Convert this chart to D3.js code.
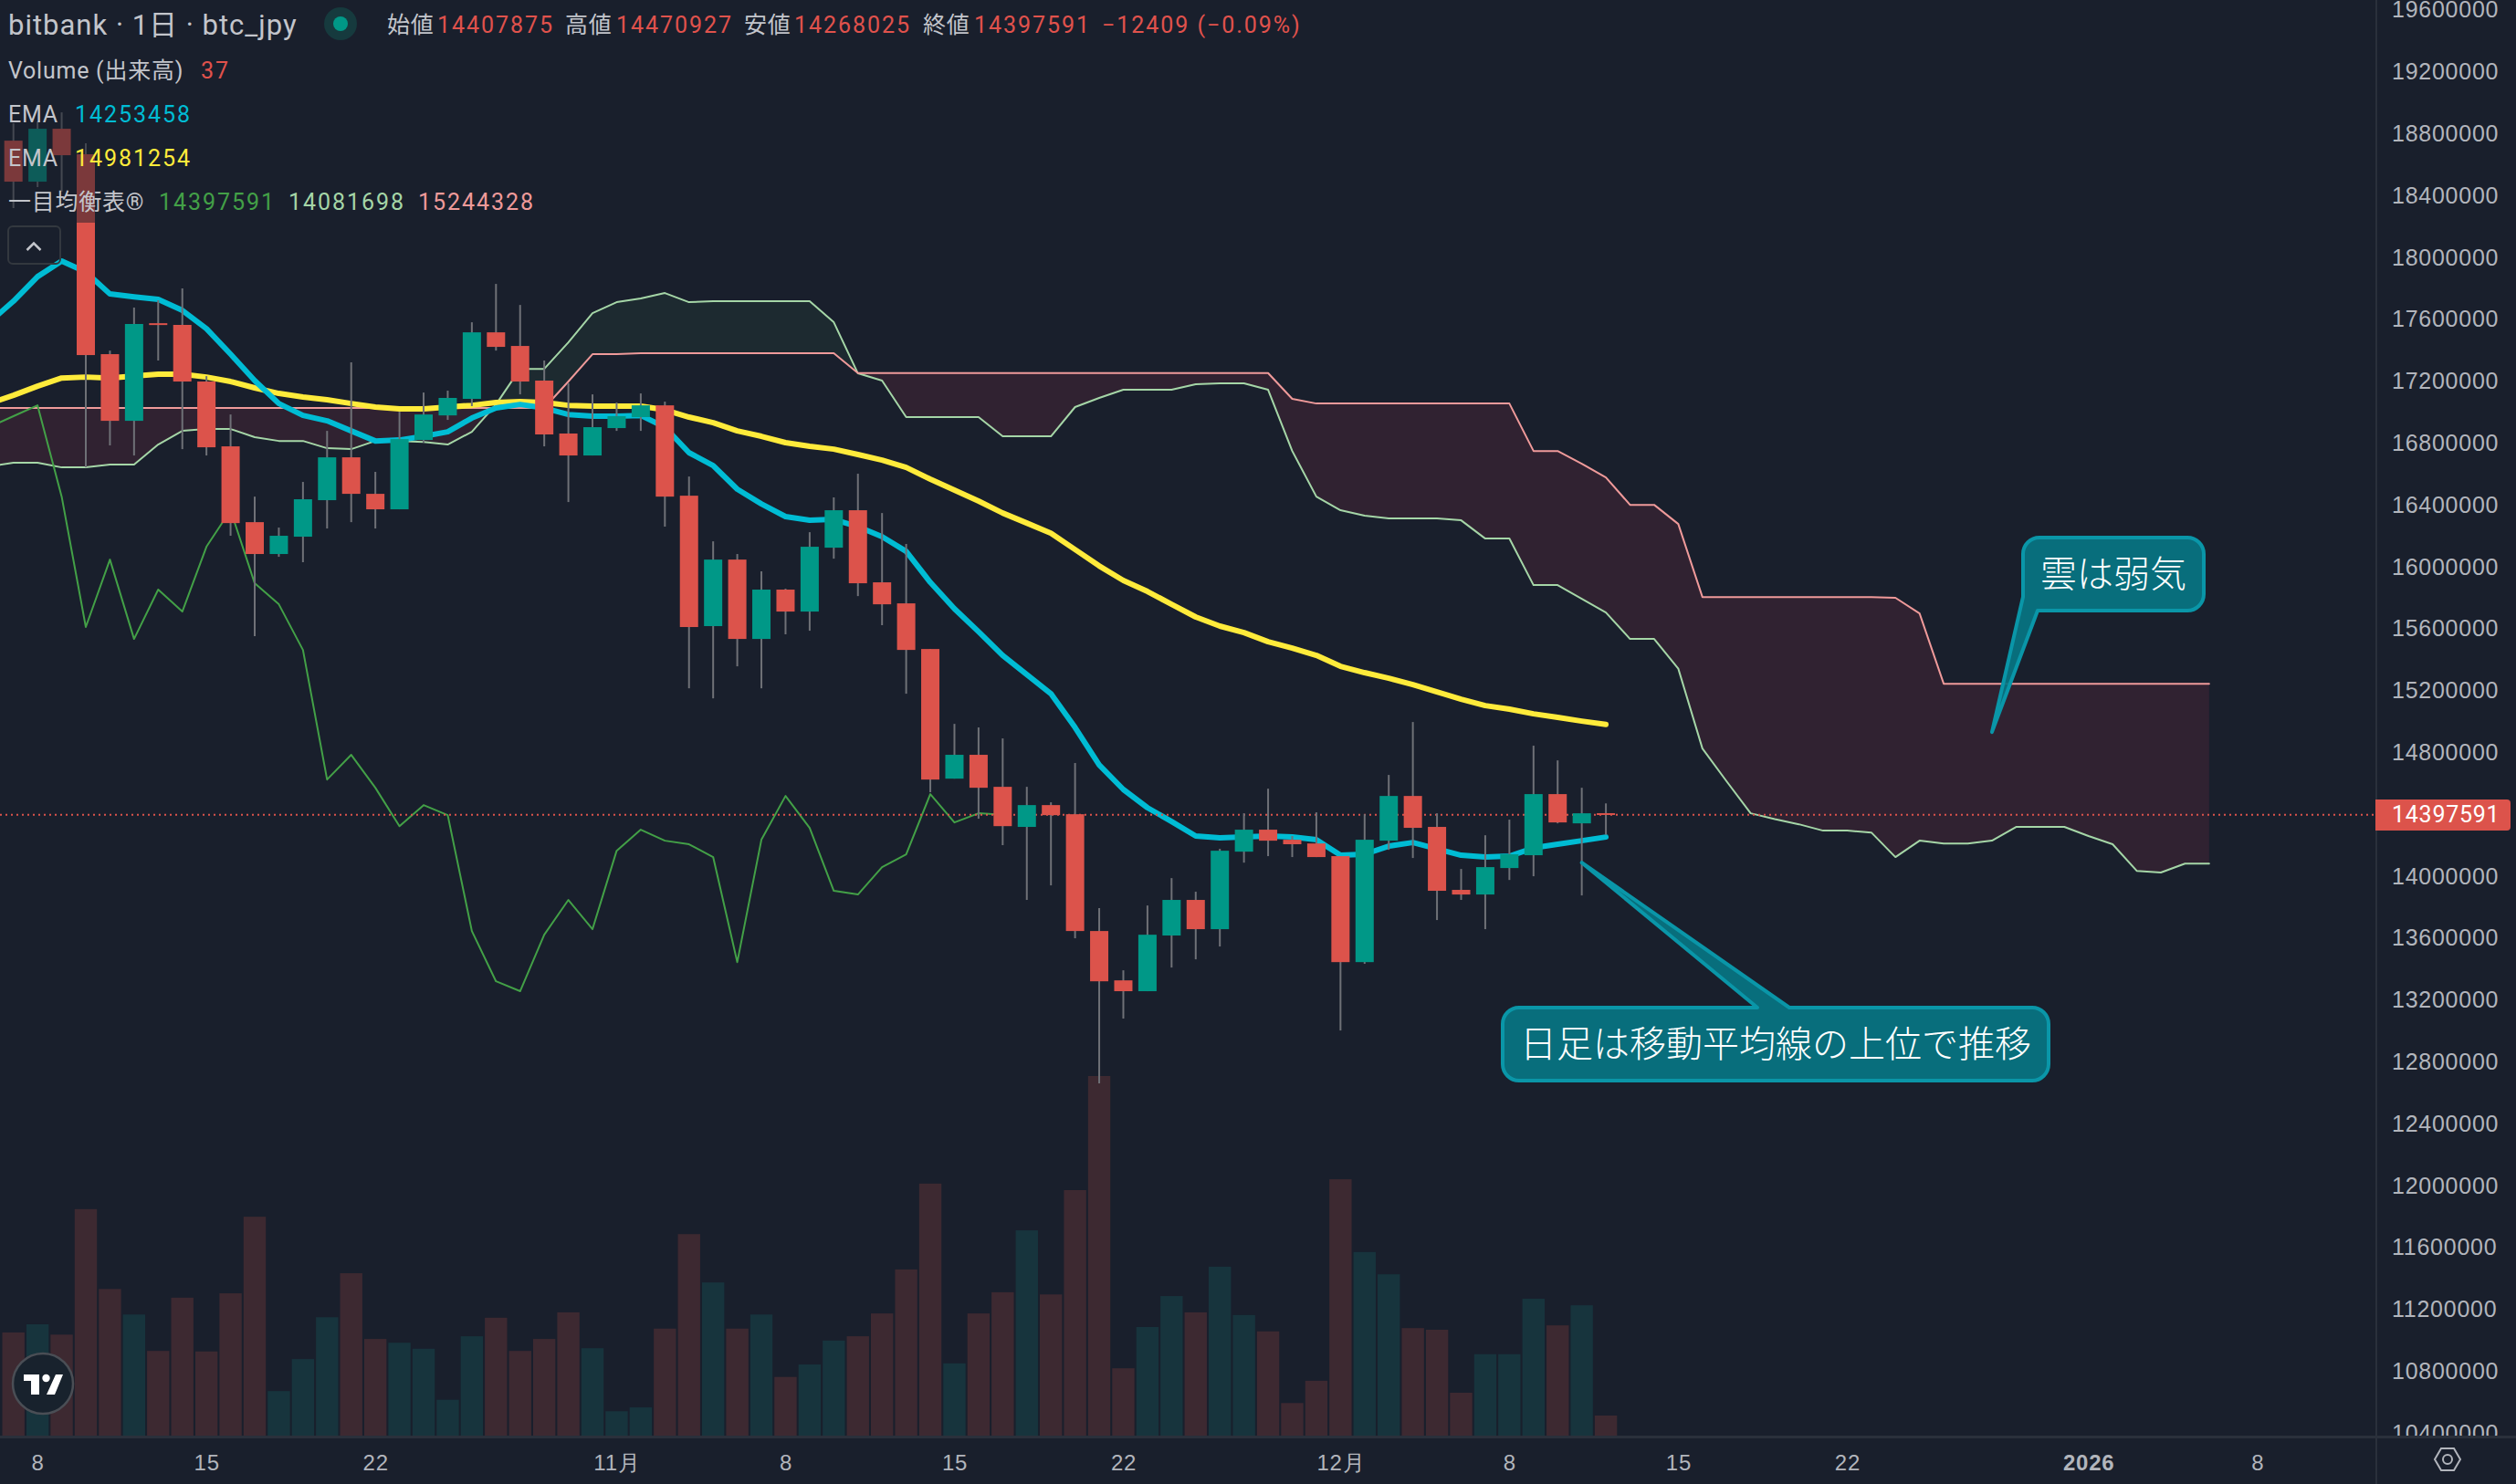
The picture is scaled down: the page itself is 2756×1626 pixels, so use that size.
<!DOCTYPE html>
<html>
<head>
<meta charset="utf-8">
<title>bitbank btc_jpy</title>
<script src="https://cdn.jsdelivr.net/npm/d3@7"></script>
<style>
	html, body { margin: 0; padding: 0; background: #191f2c; }
	svg { display: block; font-family: Roboto, "Noto Sans CJK JP", sans-serif; }
</style>
</head>
<body>
<svg id="chart" width="2756" height="1626"></svg>
<script>
/* Daily candles, thousand yen, first bar is 7 Oct 2025 */
const firstDay = new Date(Date.UTC(2025, 9, 7));
const opens = [18755, 18490, 18832, 18667, 17375, 16944, 17575, 17564, 17198, 16779, 16289, 16083, 16195, 16431, 16708, 16472, 16372, 16820, 16979, 17086, 17516, 17428, 17204, 16862, 16720, 16897, 16968, 17044, 16460, 15617, 16047, 15534, 15853, 15711, 16124, 16366, 15900, 15764, 15469, 14631, 14785, 14578, 14319, 14460, 14401, 13646, 13327, 13257, 13617, 13847, 13658, 14159, 14301, 14236, 14212, 14130, 13445, 14230, 14519, 14319, 13912, 13882, 14053, 14136, 14531, 14342, 14407.875];
const highs = [18867, 18879, 18938, 18738, 17398, 17676, 17723, 17800, 17233, 16985, 16454, 16254, 16549, 16879, 17322, 16614, 17003, 17127, 17139, 17581, 17829, 17693, 17334, 17186, 17115, 17062, 17121, 17068, 16584, 16165, 16083, 15971, 15859, 16224, 16449, 16602, 16348, 16148, 15469, 14985, 14962, 14891, 14578, 14478, 14732, 13794, 13392, 13811, 13988, 13900, 14177, 14407, 14566, 14260, 14413, 14130, 14401, 14655, 14997, 14407, 14047, 14265, 14366, 14844, 14749, 14572, 14470.927];
const lows = [18319, 18455, 18425, 16643, 16785, 16720, 17334, 16761, 16720, 16201, 15552, 16065, 16030, 16248, 16289, 16248, 16372, 16803, 16950, 17039, 17398, 17115, 16779, 16419, 16720, 16879, 16879, 16260, 15215, 15150, 15357, 15215, 15564, 15587, 16053, 15811, 15623, 15180, 14543, 14631, 14372, 14201, 13847, 13941, 13599, 12661, 13080, 13257, 13410, 13463, 13546, 14088, 14130, 14124, 14124, 13003, 13434, 14171, 14118, 13717, 13847, 13658, 13976, 14000, 14342, 13876, 14268.025];
const closes = [18490, 18832, 18661, 17369, 16944, 17570, 17564, 17198, 16773, 16283, 16083, 16201, 16437, 16708, 16472, 16372, 16826, 16985, 17092, 17516, 17422, 17198, 16856, 16720, 16903, 16974, 17044, 16454, 15611, 16047, 15534, 15853, 15711, 16130, 16366, 15894, 15758, 15463, 14625, 14785, 14572, 14324, 14460, 14395, 13646, 13321, 13257, 13622, 13847, 13658, 14165, 14301, 14230, 14207, 14124, 13445, 14236, 14519, 14313, 13906, 13882, 14059, 14142, 14531, 14348, 14407, 14397.591];
const volumes = [190, 205, 186, 417, 270, 223, 156, 254, 155, 262, 403, 82, 141, 218, 299, 178, 171, 160, 66, 183, 217, 156, 178, 227, 161, 45, 52, 197, 371, 282, 197, 223, 108, 131, 175, 183, 225, 306, 464, 133, 225, 264, 378, 260, 452, 662, 124, 200, 257, 227, 311, 222, 192, 60, 101, 472, 338, 297, 198, 195, 79, 150, 150, 252, 203, 240, 37];

/* Indicators, thousand yen. These start one bar before the first candle */
const emaFast = [17581, 17717, 17876, 17977, 17906, 17764, 17746, 17729, 17658, 17540, 17375, 17204, 17056, 16979, 16944, 16879, 16814, 16820, 16844, 16873, 16962, 17027, 17050, 17027, 16985, 16974, 16974, 16979, 16903, 16738, 16655, 16502, 16407, 16325, 16301, 16307, 16260, 16195, 16100, 15900, 15729, 15581, 15428, 15304, 15180, 14962, 14720, 14561, 14443, 14354, 14260, 14248, 14254, 14260, 14254, 14236, 14136, 14142, 14195, 14218, 14177, 14136, 14124, 14130, 14183, 14207, 14230, 14253.458];
const emaSlow = [17056, 17109, 17168, 17221, 17227, 17221, 17233, 17245, 17245, 17227, 17198, 17157, 17121, 17098, 17080, 17056, 17033, 17021, 17021, 17033, 17044, 17062, 17068, 17062, 17044, 17039, 17039, 17039, 17015, 16968, 16932, 16879, 16844, 16803, 16779, 16761, 16726, 16690, 16643, 16567, 16496, 16425, 16348, 16283, 16218, 16112, 16006, 15912, 15841, 15758, 15676, 15617, 15575, 15516, 15475, 15428, 15357, 15316, 15280, 15239, 15192, 15145, 15103, 15080, 15050, 15027, 15003, 14981.254];
const spanA = [16649, 16673, 16673, 16643, 16643, 16661, 16661, 16791, 16879, 16891, 16891, 16838, 16814, 16814, 16767, 16761, 16814, 16814, 16808, 16791, 16873, 17050, 17280, 17280, 17451, 17640, 17711, 17735, 17770, 17711, 17717, 17717, 17717, 17717, 17717, 17581, 17251, 17204, 16968, 16968, 16968, 16968, 16844, 16844, 16844, 17033, 17092, 17145, 17145, 17145, 17180, 17186, 17186, 17145, 16749, 16454, 16366, 16331, 16313, 16313, 16313, 16301, 16183, 16183, 15882, 15882, 15794, 15705, 15534, 15534, 15342, 14826, 14614, 14407, 14369, 14336, 14295, 14295, 14283, 14124, 14230, 14212, 14212, 14230, 14319, 14319, 14319, 14260, 14207, 14035, 14024, 14082, 14081.698];
const spanB = [17027, 17027, 17027, 17027, 17027, 17027, 17027, 17027, 17027, 17027, 17027, 17027, 17027, 17027, 17027, 17027, 17027, 17027, 17027, 17027, 17027, 17027, 17027, 17027, 17198, 17375, 17375, 17381, 17381, 17381, 17381, 17381, 17381, 17381, 17381, 17381, 17253, 17253, 17253, 17253, 17253, 17253, 17253, 17253, 17253, 17253, 17253, 17253, 17253, 17253, 17253, 17253, 17253, 17253, 17086, 17056, 17056, 17056, 17056, 17056, 17056, 17056, 17056, 17056, 16749, 16749, 16667, 16578, 16401, 16401, 16277, 15805, 15805, 15805, 15805, 15805, 15805, 15805, 15805, 15800, 15699, 15244.328, 15244.328, 15244.328, 15244.328, 15244.328, 15244.328, 15244.328, 15244.328, 15244.328, 15244.328, 15244.328, 15244.328];
const laggingShift = 25; // lagging span is the close drawn 25 bars back

/* Axis labels */
const priceTicks = [19600000, 19200000, 18800000, 18400000, 18000000, 17600000, 17200000, 16800000, 16400000, 16000000, 15600000, 15200000, 14800000, 14400000, 14000000, 13600000, 13200000, 12800000, 12400000, 12000000, 11600000, 11200000, 10800000, 10400000];
const timeTickDays = [1, 8, 15, 25, 32, 39, 46, 55, 62, 69, 76, 86, 93];
const timeTickLabels = ["8", "15", "22", "11月", "8", "15", "22", "12月", "8", "15", "22", "2026", "8"];
const yearTick = "2026";

/* Legend */
const lastPrice = 14397591;
const ohlcLegend = [
	{ key: "始値", value: "14407875", keyX: 424, valueX: 479 },
	{ key: "高値", value: "14470927", keyX: 619, valueX: 675 },
	{ key: "安値", value: "14268025", keyX: 815, valueX: 870 },
	{ key: "終値", value: "14397591", keyX: 1011, valueX: 1067 }
];
const priceChange = "−12409 (−0.09%)";

/* Palette */
const colors = {
	up: "#009887",
	down: "#dc534b",
	upVolume: "#17343d",
	downVolume: "#3d2931",
	wick: "#6f7177",
	emaFast: "#00bcd4",
	emaSlow: "#ffeb3b",
	lagging: "#43a047",
	spanA: "#a5d6a7",
	spanB: "#ef9a9a",
	cloudUp: "#1d2a30",
	cloudDown: "#302231",
	text: "#c3c5cb",
	axisText: "#b2b5bc",
	border: "#2a303b",
	callout: "#077583",
	calloutBorder: "#0a96a8"
};

const plotWidth = 2602;
const plotHeight = 1574;
const svg = d3.select("#chart");

const dayIndex = (i) => d3.utcDay.offset(firstDay, i);

const x = d3.scaleUtc()
	.domain([dayIndex(0), dayIndex(93)])
	.range([14.7, 2472.7]);

const y = d3.scaleLinear()
	.domain([10372300, 19664300])
	.range([1575, 0]);

const yVolume = d3.scaleLinear()
	.domain([0, 662])
	.range([1573, 1179]);

const xi = (i) => x(dayIndex(i));
const yk = (k) => y(k * 1000);

svg.append("rect")
	.attr("width", 2756)
	.attr("height", 1626)
	.attr("fill", "#191f2c");

svg.append("clipPath")
	.attr("id", "plotClip")
	.append("rect")
	.attr("width", plotWidth)
	.attr("height", plotHeight);

svg.append("clipPath")
	.attr("id", "axisClip")
	.append("rect")
	.attr("x", plotWidth)
	.attr("width", 2756 - plotWidth)
	.attr("height", plotHeight - 1);

const plot = svg.append("g").attr("clip-path", "url(#plotClip)");

/* Volume */
plot.append("g")
	.selectAll("rect")
	.data(volumes)
	.join("rect")
	.attr("x", (d, i) => xi(i) - 12.2)
	.attr("width", 24.4)
	.attr("y", (d) => yVolume(d))
	.attr("height", (d) => yVolume(0) - yVolume(d))
	.attr("fill", (d, i) => closes[i] >= opens[i] ? colors.upVolume : colors.downVolume);

/* Ichimoku cloud */
const spanRows = spanA.map((a, i) => ({ i: i - 1, a, b: spanB[i] }));

const cloudArea = (edge) => d3.area()
	.x((d) => xi(d.i))
	.y0((d) => yk(edge(d)))
	.y1((d) => yk(Math.min(d.a, d.b)));

plot.append("path")
	.attr("d", cloudArea((d) => d.a)(spanRows))
	.attr("fill", colors.cloudUp);

plot.append("path")
	.attr("d", cloudArea((d) => d.b)(spanRows))
	.attr("fill", colors.cloudDown);

const valueLine = d3.line()
	.x((d) => xi(d.i))
	.y((d) => yk(d.v));

const rows = (values, start) => values.map((v, i) => ({ i: i + start, v }));

const drawLine = (values, start, color, width) => {
	plot.append("path")
		.attr("d", valueLine(rows(values, start)))
		.attr("fill", "none")
		.attr("stroke", color)
		.attr("stroke-width", width)
		.attr("stroke-linejoin", "round")
		.attr("stroke-linecap", "round");
};

drawLine(spanA, -1, colors.spanA, 2);
drawLine(spanB, -1, colors.spanB, 2);
drawLine(closes.slice(laggingShift - 1), -1, colors.lagging, 2);
drawLine(emaSlow, -1, colors.emaSlow, 6);
drawLine(emaFast, -1, colors.emaFast, 6);

/* Last price line */
plot.append("line")
	.attr("x1", 0)
	.attr("x2", plotWidth)
	.attr("y1", y(lastPrice))
	.attr("y2", y(lastPrice))
	.attr("stroke", colors.down)
	.attr("stroke-width", 2)
	.attr("stroke-dasharray", "2,4");

/* Candles */
const candles = plot.append("g")
	.selectAll("g")
	.data(opens)
	.join("g");

candles.append("line")
	.attr("x1", (d, i) => xi(i))
	.attr("x2", (d, i) => xi(i))
	.attr("y1", (d, i) => yk(highs[i]))
	.attr("y2", (d, i) => yk(lows[i]))
	.attr("stroke", colors.wick)
	.attr("stroke-width", 2);

candles.append("rect")
	.attr("x", (d, i) => xi(i) - 10)
	.attr("width", 20)
	.attr("y", (d, i) => yk(Math.max(opens[i], closes[i])))
	.attr("height", (d, i) => Math.max(2, Math.abs(yk(opens[i]) - yk(closes[i]))))
	.attr("fill", (d, i) => closes[i] >= opens[i] ? colors.up : colors.down);

/* Axes */
svg.append("rect")
	.attr("x", plotWidth)
	.attr("width", 2)
	.attr("height", 1626)
	.attr("fill", colors.border);

svg.append("rect")
	.attr("y", plotHeight - 1)
	.attr("width", 2756)
	.attr("height", 3)
	.attr("fill", colors.border);

const priceAxis = svg.append("g")
	.attr("clip-path", "url(#axisClip)")
	.append("g")
	.attr("transform", `translate(${plotWidth},0)`)
	.call(d3.axisRight(y).tickValues(priceTicks).tickSize(0).tickPadding(18).tickFormat(d3.format("d")));

priceAxis.select(".domain").remove();
priceAxis.selectAll("text")
	.attr("font-family", null)
	.attr("font-size", 25)
	.attr("letter-spacing", 0.75)
	.attr("fill", colors.axisText);

const timeAxis = svg.append("g")
	.attr("transform", `translate(0,${plotHeight})`)
	.call(d3.axisBottom(x)
		.tickValues(timeTickDays.map(dayIndex))
		.tickSize(0)
		.tickPadding(20)
		.tickFormat((d, i) => timeTickLabels[i]));

timeAxis.select(".domain").remove();
timeAxis.selectAll("text")
	.attr("font-family", null)
	.attr("font-size", 24)
	.attr("letter-spacing", 0.75)
	.attr("font-weight", (d, i) => timeTickLabels[i] === yearTick ? 700 : 400)
	.attr("fill", colors.axisText);

/* Last price label */
svg.append("path")
	.attr("d", "M2602,876H2746a4,4 0 0 1 4,4V906a4,4 0 0 1 -4,4H2602Z")
	.attr("fill", colors.down);

svg.append("text")
	.attr("x", plotWidth + 18)
	.attr("y", y(lastPrice))
	.attr("dy", "0.35em")
	.attr("font-size", 25)
	.attr("letter-spacing", 0.75)
	.attr("fill", "#ffffff")
	.text(lastPrice);

/* Settings icon */
const settings = svg.append("g")
	.attr("transform", "translate(2681,1599)")
	.attr("fill", "none")
	.attr("stroke", colors.axisText)
	.attr("stroke-width", 2);

settings.append("path").attr("d", "M-14,0L-7,-12H7L14,0L7,12H-7Z");
settings.append("circle").attr("r", 5);

/* Callouts */
const callouts = [
	{ text: "日足は移動平均線の上位で推移", tipDay: 65, tipPrice: 14088, box: [1646, 1104, 598, 80], pointer: "top", base: [1925, 1960] },
	{ text: "雲は弱気", tipDay: 82, tipPrice: 14932, box: [2216, 589, 198, 80], pointer: "left", base: [654, 2232] }
];

const calloutPath = (c) => {
	const [bx, by, bw, bh] = c.box;
	const r = 18;
	const tip = `${xi(c.tipDay)},${yk(c.tipPrice)}`;
	if (c.pointer === "top") {
		return `M${bx + r},${by}H${c.base[0]}L${tip}L${c.base[1]},${by}H${bx + bw - r}a${r},${r} 0 0 1 ${r},${r}V${by + bh - r}a${r},${r} 0 0 1 -${r},${r}H${bx + r}a${r},${r} 0 0 1 -${r},-${r}V${by + r}a${r},${r} 0 0 1 ${r},-${r}Z`;
	}
	return `M${bx + r},${by}H${bx + bw - r}a${r},${r} 0 0 1 ${r},${r}V${by + bh - r}a${r},${r} 0 0 1 -${r},${r}H${c.base[1]}L${tip}L${bx},${c.base[0]}V${by + r}a${r},${r} 0 0 1 ${r},-${r}Z`;
};

const calloutGroups = svg.append("g")
	.selectAll("g")
	.data(callouts)
	.join("g");

calloutGroups.append("path")
	.attr("d", calloutPath)
	.attr("fill", colors.callout)
	.attr("fill-opacity", 0.92)
	.attr("stroke", colors.calloutBorder)
	.attr("stroke-width", 4)
	.attr("stroke-linejoin", "round");

calloutGroups.append("text")
	.attr("x", (d) => d.box[0] + d.box[2] / 2)
	.attr("y", (d) => d.box[1] + d.box[3] / 2)
	.attr("dy", "0.36em")
	.attr("text-anchor", "middle")
	.attr("font-size", 40)
	.attr("font-weight", 300)
	.attr("fill", "#ffffff")
	.text((d) => d.text);

/* Legend */
svg.append("rect")
	.attr("y", 108)
	.attr("width", 210)
	.attr("height", 136)
	.attr("fill", "#191f2c")
	.attr("fill-opacity", 0.5);

const legend = svg.append("g").attr("font-size", 25);

const label = (text, lx, ly, color, size, spacing) => {
	return legend.append("text")
		.attr("x", lx)
		.attr("y", ly)
		.attr("dy", "0.36em")
		.attr("font-size", size || null)
		.attr("letter-spacing", spacing === undefined ? 0.75 : spacing)
		.attr("fill", color)
		.text(text);
};

const digitSpacing = 1.95;

label("bitbank · 1日 · btc_jpy", 9, 27, colors.text, 31, 1);

ohlcLegend.forEach((d) => {
	label(d.key, d.keyX, 27, colors.text);
	label(d.value, d.valueX, 27, "#e0524c", 25, digitSpacing);
});
label(priceChange, 1207, 27, "#e0524c", 25, digitSpacing);

label("Volume (出来高)", 9, 77, colors.text);
label(volumes[volumes.length - 1], 220, 77, "#e0524c", 25, digitSpacing);
label("EMA", 9, 125, colors.text);
label("14253458", 82, 125, colors.emaFast, 25, digitSpacing);
label("EMA", 9, 173, colors.text);
label("14981254", 82, 173, colors.emaSlow, 25, digitSpacing);
label("一目均衡表®", 9, 221, colors.text);
label("14397591", 174, 221, colors.lagging, 25, digitSpacing);
label("14081698", 316, 221, colors.spanA, 25, digitSpacing);
label("15244328", 458, 221, colors.spanB, 25, digitSpacing);

/* Status dot */
svg.append("circle").attr("cx", 373).attr("cy", 26).attr("r", 18).attr("fill", "#163a3e");
svg.append("circle").attr("cx", 373).attr("cy", 26).attr("r", 8).attr("fill", colors.up);

/* Collapse button */
svg.append("rect")
	.attr("x", 9)
	.attr("y", 248)
	.attr("width", 57)
	.attr("height", 41)
	.attr("rx", 5)
	.attr("fill", "none")
	.attr("stroke", "#33383f")
	.attr("stroke-width", 2);

svg.append("path")
	.attr("d", "M29.5,274L37,266.5L44.5,274")
	.attr("fill", "none")
	.attr("stroke", colors.text)
	.attr("stroke-width", 2.5);

/* Logo badge */
const badge = svg.append("g").attr("transform", "translate(47,1516)");

badge.append("circle")
	.attr("r", 33)
	.attr("fill", "#18222d")
	.attr("stroke", "#4a4e55")
	.attr("stroke-width", 2.5);

badge.append("path")
	.attr("d", "M-21,-10H-4V12H-13V-3H-21Z M14,-10H22L13,12H4Z")
	.attr("fill", "#ffffff");

badge.append("circle")
	.attr("cx", 3.5)
	.attr("cy", -6)
	.attr("r", 4.2)
	.attr("fill", "#ffffff");
</script>
</body>
</html>
